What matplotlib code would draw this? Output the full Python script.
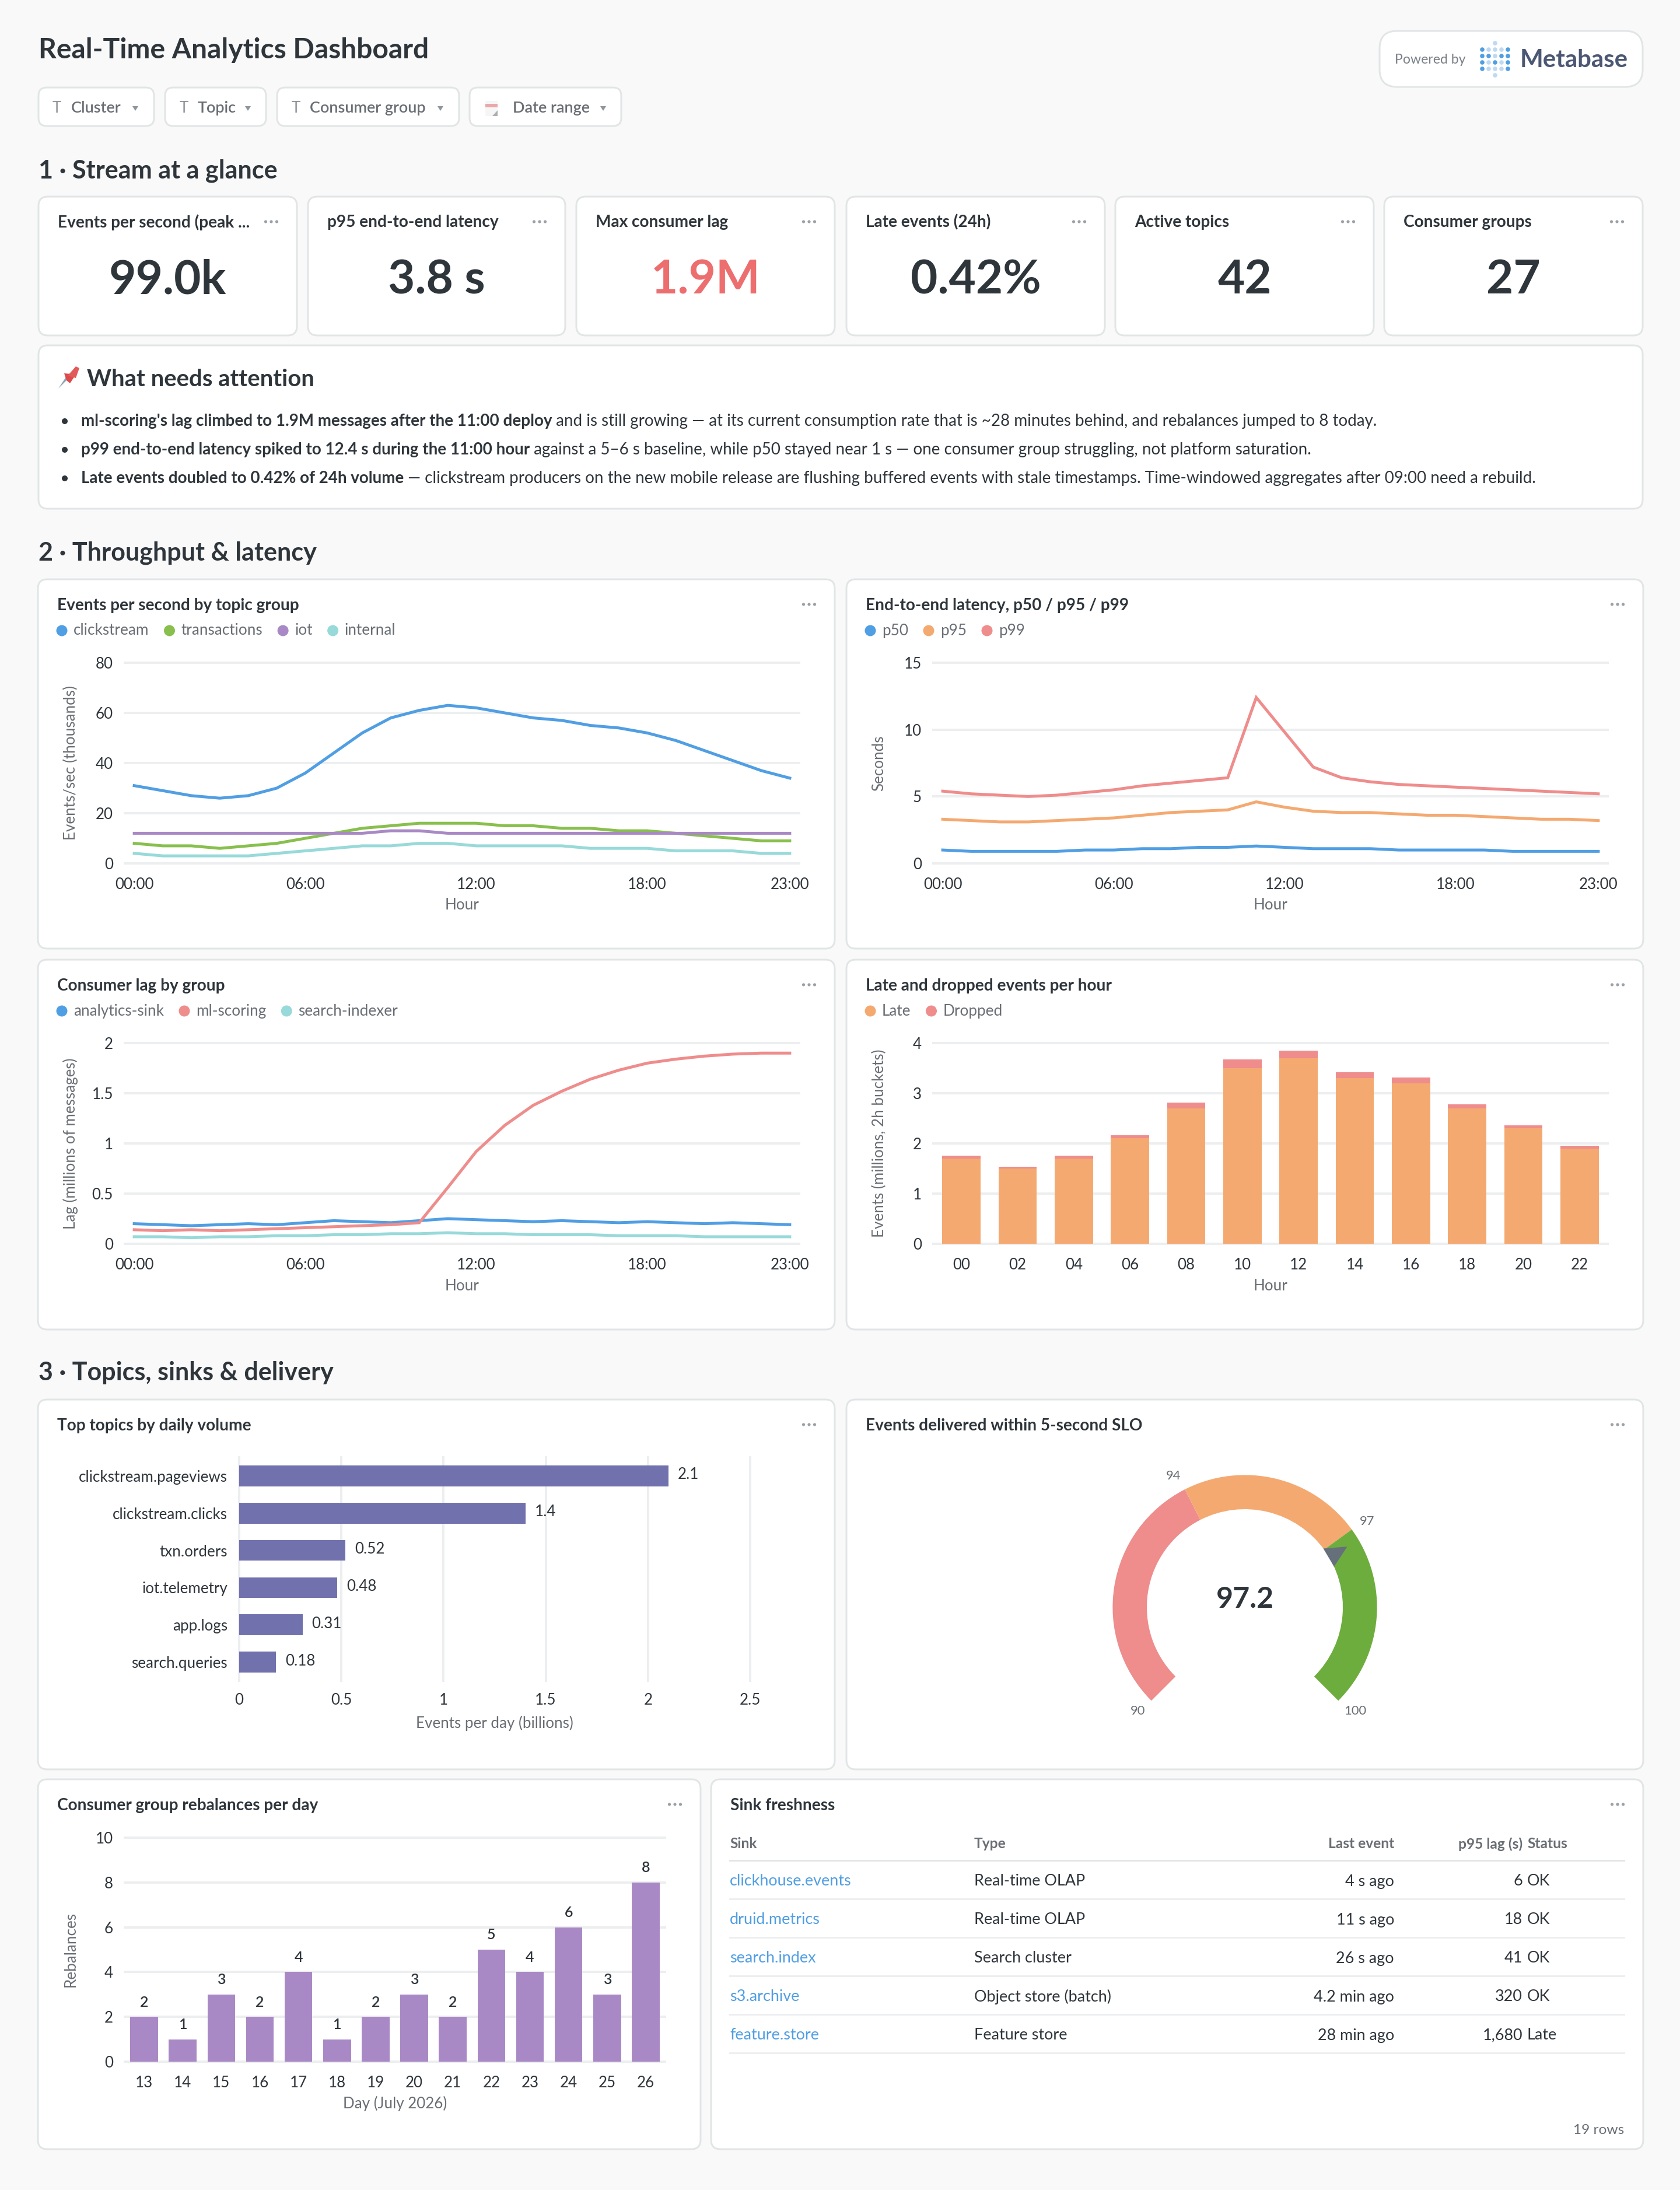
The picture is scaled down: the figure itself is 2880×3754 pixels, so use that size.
import matplotlib
matplotlib.use("Agg")
import matplotlib.pyplot as plt
from matplotlib.patches import FancyBboxPatch, Circle, Polygon, Rectangle, Wedge
import numpy as np

plt.rcParams['font.family'] = ['Lato', 'DejaVu Sans']

W, H = 2880, 3754
DPI = 200

# colours
BG = '#F9F9FA'
BORDER = '#E1E5E5'
DARK = '#2E353B'
MUTED = '#696E74'
GRID = '#EDEEEF'
BLUE = '#509EE3'
GREEN = '#88BF4D'
PURPLE = '#A989C5'
TEAL = '#98D9D9'
ORANGE = '#F4A971'
RED = '#EF8C8C'
INDIGO = '#7172AD'
GAUGE_GREEN = '#6DAD3E'

# --- data ---
hours = list(range(24))
hour_ticks = [0, 6, 12, 18, 23]
hour_tick_labels = ['00:00', '06:00', '12:00', '18:00', '23:00']

clickstream = [31, 29, 27, 26, 27, 30, 36, 44, 52, 58, 61, 63, 62, 60, 58, 57, 55, 54, 52, 49, 45, 41, 37, 34]
transactions = [8, 7, 7, 6, 7, 8, 10, 12, 14, 15, 16, 16, 16, 15, 15, 14, 14, 13, 13, 12, 11, 10, 9, 9]
iot = [12, 12, 12, 12, 12, 12, 12, 12, 12, 13, 13, 12, 12, 12, 12, 12, 12, 12, 12, 12, 12, 12, 12, 12]
internal = [4, 3, 3, 3, 3, 4, 5, 6, 7, 7, 8, 8, 7, 7, 7, 7, 6, 6, 6, 5, 5, 5, 4, 4]

p50 = [1, .9, .9, .9, .9, 1, 1, 1.1, 1.1, 1.2, 1.2, 1.3, 1.2, 1.1, 1.1, 1.1, 1, 1, 1, 1, .9, .9, .9, .9]
p95 = [3.3, 3.2, 3.1, 3.1, 3.2, 3.3, 3.4, 3.6, 3.8, 3.9, 4, 4.6, 4.2, 3.9, 3.8, 3.8, 3.7, 3.6, 3.6, 3.5, 3.4, 3.3, 3.3, 3.2]
p99 = [5.4, 5.2, 5.1, 5.0, 5.1, 5.3, 5.5, 5.8, 6.0, 6.2, 6.4, 12.4, 9.8, 7.2, 6.4, 6.1, 5.9, 5.8, 5.7, 5.6, 5.5, 5.4, 5.3, 5.2]

analytics_sink = [.2, .19, .18, .19, .2, .19, .21, .23, .22, .21, .23, .25, .24, .23, .22, .23, .22, .21, .22, .21, .2, .21, .2, .19]
ml_scoring = [.14, .13, .14, .13, .14, .15, .16, .17, .18, .19, .21, .56, .92, 1.18, 1.38, 1.52, 1.64, 1.73, 1.8, 1.84, 1.87, 1.89, 1.9, 1.9]
search_indexer = [.07, .07, .06, .07, .07, .08, .08, .09, .09, .1, .1, .11, .1, .1, .09, .09, .09, .08, .08, .08, .07, .07, .07, .07]

bucket_labels = ['00', '02', '04', '06', '08', '10', '12', '14', '16', '18', '20', '22']
late_events = [1.7, 1.5, 1.7, 2.1, 2.7, 3.5, 3.7, 3.3, 3.2, 2.7, 2.3, 1.9]
dropped_events = [.05, .04, .05, .06, .11, .17, .15, .12, .11, .08, .06, .05]

topic_names = ['clickstream.pageviews', 'clickstream.clicks', 'txn.orders', 'iot.telemetry', 'app.logs', 'search.queries']
topic_volume = [2.1, 1.4, 0.52, 0.48, 0.31, 0.18]

gauge_bounds = [90, 94, 97, 100]
gauge_value = 97.2

rebalance_days = ['13', '14', '15', '16', '17', '18', '19', '20', '21', '22', '23', '24', '25', '26']
rebalances = [2, 1, 3, 2, 4, 1, 2, 3, 2, 5, 4, 6, 3, 8]

kpi_titles = ['Events per second (peak ...', 'p95 end-to-end latency', 'Max consumer lag',
              'Late events (24h)', 'Active topics', 'Consumer groups']
kpi_values = ['99.0k', '3.8 s', '1.9M', '0.42%', '42', '27']

table_sink = ['clickhouse.events', 'druid.metrics', 'search.index', 's3.archive', 'feature.store']
table_type = ['Real-time OLAP', 'Real-time OLAP', 'Search cluster', 'Object store (batch)', 'Feature store']
table_last = ['4 s ago', '11 s ago', '26 s ago', '4.2 min ago', '28 min ago']
table_p95 = ['6', '18', '41', '320', '1,680']
table_status = ['OK', 'OK', 'OK', 'OK', 'Late']

notes = [
    ("ml-scoring's lag climbed to 1.9M messages after the 11:00 deploy",
     " and is still growing — at its current consumption rate that is ~28 minutes behind, and rebalances jumped to 8 today."),
    ("p99 end-to-end latency spiked to 12.4 s during the 11:00 hour",
     " against a 5–6 s baseline, while p50 stayed near 1 s — one consumer group struggling, not platform saturation."),
    ("Late events doubled to 0.42% of 24h volume",
     " — clickstream producers on the new mobile release are flushing buffered events with stale timestamps. Time-windowed aggregates after 09:00 need a rebuild."),
]


def fs(n):
    # pixel size to points
    return n * 72 / DPI


fig = plt.figure(figsize=(W / DPI, H / DPI), dpi=DPI, facecolor=BG)
bg = fig.add_axes([0, 0, 1, 1], zorder=0)
bg.set_xlim(0, W)
bg.set_ylim(H, 0)
bg.axis('off')


def card(x0, y0, x1, y1, r=16):
    bg.add_patch(FancyBboxPatch((x0, y0), x1 - x0, y1 - y0, boxstyle=f'round,pad=0,rounding_size={r}',
                                fc='white', ec=BORDER, lw=fs(3)))


def label(x, y, s, size=26, color=DARK, weight='normal', ha='left', va='center'):
    return bg.text(x, y, s, fontsize=fs(size), color=color, fontweight=weight, ha=ha, va=va)


def dots(x, y):
    for dx in (-9.5, 0, 9.5):
        bg.add_patch(Circle((x + dx, y), 2.6, fc='#9BA1A6', ec='none'))


def text_end(t):
    return t.get_window_extent(fig.canvas.get_renderer()).x1


def chart_card(x0, y0, x1, y1, title):
    card(x0, y0, x1, y1)
    label(x0 + 33, y0 + 45, title, 28, weight='bold')
    dots(x1 - 44, y0 + 43)


def legend_row(x, y, items):
    for name, color in items:
        bg.add_patch(Circle((x - 20, y), 9.5, fc=color, ec='none'))
        t = label(x, y, name, 26.2, MUTED)
        x = text_end(t) + 55


def axes_px(x0, y0, x1, y1):
    ax = fig.add_axes([x0 / W, 1 - y1 / H, (x1 - x0) / W, (y1 - y0) / H], zorder=1)
    ax.patch.set_alpha(0)
    for s in ax.spines.values():
        s.set_visible(False)
    ax.tick_params(length=0, labelsize=fs(26), labelcolor=DARK)
    ax.set_axisbelow(True)
    return ax


def style_axis(ax, x0, y0, x1, y1, xlabel, ylabel=None, grid='y'):
    ax.grid(True, axis=grid, color=GRID, lw=fs(4))
    for gl in ax.get_ygridlines() + ax.get_xgridlines():
        gl.set_clip_on(False)
    ax.tick_params(axis='x', pad=fs(24))
    ax.tick_params(axis='y', pad=fs(20))
    ax.set_xlabel(xlabel, fontsize=fs(26), color=MUTED, va='center')
    ax.xaxis.set_label_coords(0.5, -72 / (y1 - y0))
    if ylabel:
        ax.set_ylabel(ylabel, fontsize=fs(26), color=MUTED, va='center')
        ax.yaxis.set_label_coords(-93 / (x1 - x0), 0.5)


def line_chart(rect, series, yticks, ylabels, ylabel):
    x0, y0, x1, y1 = rect
    ax = axes_px(*rect)
    for vals, color in series:
        ax.plot(hours, vals, color=color, lw=fs(5), solid_joinstyle='miter')
    ax.set_xlim(-0.33, 23.33)
    ax.set_ylim(yticks[0], yticks[-1])
    ax.set_xticks(hour_ticks, hour_tick_labels)
    ax.set_yticks(yticks, ylabels)
    style_axis(ax, x0, y0, x1, y1, 'Hour', ylabel)
    return ax


# --- header ---
label(66, 86, 'Real-Time Analytics Dashboard', 48, weight='bold')

pills = [(66, 264, 'Cluster', 97, 122, 232), (283, 456, 'Topic', 315, 339, 425),
         (475, 787, 'Consumer group', 507, 531, 755), (805, 1065, 'Date range', None, 879, 1034)]
for x0, x1, name, icon_x, text_x, caret_x in pills:
    card(x0, 150, x1, 216, r=14)
    if icon_x:
        label(icon_x, 185, 'T', 26, '#8F959B', ha='center')
    label(text_x, 185, name, 27, MUTED, weight=600)
    bg.add_patch(Polygon([(caret_x - 5, 182), (caret_x + 5, 182), (caret_x, 190)], fc='#8F959B', ec='none'))
# calendar icon
bg.add_patch(Rectangle((832, 173), 21, 26, fc='#F6F6F6', ec='none'))
bg.add_patch(Rectangle((832, 178), 21, 6, fc='#E9A9A9', ec='none'))
bg.add_patch(Polygon([(844, 199), (853, 199), (853, 189)], fc='#A9AEB2', ec='none'))

card(2365, 53, 2816, 149, r=30)
label(2391, 102, 'Powered by', 23, '#7A8087')
logo_m = [[1, 0, 0, 0, 1], [1, 1, 0, 1, 1], [1, 0, 1, 0, 1], [1, 0, 0, 0, 1]]
for row, flags in enumerate(logo_m):
    for col, on in enumerate(flags):
        bg.add_patch(Circle((2541 + col * 11, 85 + row * 11), 3.8, fc=BLUE if on else '#BFD9F2', ec='none'))
for yy in (74, 129):
    bg.add_patch(Circle((2563, yy), 3.8, fc='#BFD9F2', ec='none'))
label(2606, 103, 'Metabase', 42, '#4C5773', weight='bold')

# --- section 1 ---
label(66, 293, '1 · Stream at a glance', 43.2, weight='bold')
kpi_x = [(66, 509), (528, 969), (988, 1431), (1451, 1894), (1912, 2355), (2373, 2816)]
for (x0, x1), title, value in zip(kpi_x, kpi_titles, kpi_values):
    card(x0, 337, x1, 575)
    label(x0 + 33, 381, title, 28, weight='bold')
    dots(x1 - 44, 380)
    label((x0 + x1) / 2, 480, value, 80, '#ED6E6E' if value == '1.9M' else DARK, weight='bold', ha='center')

card(66, 592, 2816, 872)
label(149, 650, 'What needs attention', 40, weight='bold')
# pin icon
bg.add_patch(Polygon([(100, 666), (114, 645), (118, 648)], fc='#8FA3B5', ec='none'))
bg.add_patch(Polygon([(110, 640), (122, 641), (128, 645), (120, 657), (114, 652)], fc='#DD4A4A', ec='none'))
bg.add_patch(Polygon([(116, 644), (130, 628), (136, 631), (130, 648)], fc='#E25B5B', ec='none'))
for yy, (bold_part, rest) in zip([722, 771, 820], notes):
    bg.add_patch(Circle((111, yy), 5, fc=DARK, ec='none'))
    t = label(139, yy, bold_part, 27.7, weight='bold')
    label(text_end(t), yy, rest, 27.7)

# --- section 2 ---
label(66, 948, '2 · Throughput & latency', 43.2, weight='bold')

chart_card(65, 993, 1431, 1626, 'Events per second by topic group')
legend_row(126, 1081, [('clickstream', BLUE), ('transactions', GREEN), ('iot', PURPLE), ('internal', TEAL)])
line_chart((214, 1136, 1370, 1480),
           [(clickstream, BLUE), (transactions, GREEN), (iot, PURPLE), (internal, TEAL)],
           [0, 20, 40, 60, 80], ['0', '20', '40', '60', '80'], 'Events/sec (thousands)')

chart_card(1451, 993, 2817, 1626, 'End-to-end latency, p50 / p95 / p99')
legend_row(1512, 1081, [('p50', BLUE), ('p95', ORANGE), ('p99', RED)])
line_chart((1600, 1136, 2756, 1480), [(p50, BLUE), (p95, ORANGE), (p99, RED)],
           [0, 5, 10, 15], ['0', '5', '10', '15'], 'Seconds')

chart_card(65, 1645, 1431, 2279, 'Consumer lag by group')
legend_row(126, 1733, [('analytics-sink', BLUE), ('ml-scoring', RED), ('search-indexer', TEAL)])
line_chart((214, 1788, 1370, 2132), [(analytics_sink, BLUE), (ml_scoring, RED), (search_indexer, TEAL)],
           [0, 0.5, 1, 1.5, 2], ['0', '0.5', '1', '1.5', '2'], 'Lag (millions of messages)')

chart_card(1451, 1645, 2817, 2279, 'Late and dropped events per hour')
legend_row(1512, 1733, [('Late', ORANGE), ('Dropped', RED)])
rect = (1600, 1788, 2756, 2132)
ax = axes_px(*rect)
pos = np.arange(len(bucket_labels))
ax.bar(pos, late_events, width=0.685, color=ORANGE)
ax.bar(pos, dropped_events, width=0.685, bottom=late_events, color=RED)
ax.set_xlim(-0.5, 11.5)
ax.set_ylim(0, 4)
ax.set_xticks(pos, bucket_labels)
ax.set_yticks([0, 1, 2, 3, 4], ['0', '1', '2', '3', '4'])
style_axis(ax, *rect, 'Hour', 'Events (millions, 2h buckets)')

# --- section 3 ---
label(66, 2353, '3 · Topics, sinks & delivery', 43, weight='bold')

chart_card(65, 2399, 1431, 3033, 'Top topics by daily volume')
rect = (410, 2498, 1286, 2881)
ax = axes_px(*rect)
pos = np.arange(len(topic_names))
ax.barh(pos, topic_volume, height=0.56, color=INDIGO)
ax.set_xlim(0, 2.5)
ax.set_ylim(5.5, -0.5)
ax.set_yticks(pos, topic_names)
ax.set_xticks([0, 0.5, 1, 1.5, 2, 2.5], ['0', '0.5', '1', '1.5', '2', '2.5'])
style_axis(ax, *rect, 'Events per day (billions)', None, grid='x')
ax.xaxis.set_label_coords(0.5, -73 / (rect[3] - rect[1]))
ax.tick_params(axis='x', pad=fs(21))
for i, v in enumerate(topic_volume):
    ax.annotate(f'{v:g}', (v, i), xytext=(fs(16), fs(2)), textcoords='offset points', va='center',
                fontsize=fs(26), color=DARK)

chart_card(1451, 2399, 2817, 3033, 'Events delivered within 5-second SLO')
gx, gy, half = 2134, 2755, 300
ax = axes_px(gx - half, gy - half, gx + half, gy + half)
ax.set_xlim(-half, half)
ax.set_ylim(-half, half)
ax.axis('off')


def gauge_angle(v):
    # 90 sits at 225 degrees, 100 at -45
    return 225 - (v - gauge_bounds[0]) / (gauge_bounds[-1] - gauge_bounds[0]) * 270


R_OUT, R_IN = 226.6, 168
for lo, hi, color in zip(gauge_bounds[:-1], gauge_bounds[1:], [RED, ORANGE, GAUGE_GREEN]):
    ax.add_patch(Wedge((0, 0), R_OUT, gauge_angle(hi), gauge_angle(lo), width=R_OUT - R_IN, fc=color, ec='none'))
a = np.radians(gauge_angle(gauge_value))
da = np.radians(6.2)
ax.add_patch(Polygon([(204 * np.cos(a), 204 * np.sin(a)),
                      (R_IN * np.cos(a + da), R_IN * np.sin(a + da)),
                      (R_IN * np.cos(a - da), R_IN * np.sin(a - da))], fc='#66707A', ec='none'))
label_nudge = {90: (-2, 3), 94: (-6, -3), 97: (3, -3), 100: (8, 3)}
for b in gauge_bounds:
    t = np.radians(gauge_angle(b))
    nx, ny = label_nudge[b]
    ax.text(256 * np.cos(t) + nx, 256 * np.sin(t) + ny, str(b), fontsize=fs(22), color=MUTED, ha='center', va='center')
ax.text(0, 14, f'{gauge_value}', fontsize=fs(50), color=DARK, fontweight='bold', ha='center', va='center')

chart_card(65, 3050, 1201, 3684, 'Consumer group rebalances per day')
rect = (214, 3150, 1140, 3534)
ax = axes_px(*rect)
pos = np.arange(len(rebalance_days))
ax.bar(pos, rebalances, width=0.72, color=PURPLE)
ax.set_xlim(-0.5, 13.5)
ax.set_ylim(0, 10)
ax.set_xticks(pos, rebalance_days)
ax.set_yticks([0, 2, 4, 6, 8, 10], ['0', '2', '4', '6', '8', '10'])
style_axis(ax, *rect, 'Day (July 2026)', 'Rebalances')
for i, v in enumerate(rebalances):
    ax.annotate(str(v), (i, v), xytext=(0, fs(25)), textcoords='offset points', ha='center', va='center',
                fontsize=fs(25), color=DARK, fontweight=600)

# sink table
chart_card(1219, 3050, 2817, 3684, 'Sink freshness')
TX = [1251, 1670, 2390, 2610, 2618]
label(TX[0], 3161, 'Sink', 24.5, MUTED, weight='bold')
label(TX[1], 3161, 'Type', 24.5, MUTED, weight='bold')
label(TX[2], 3161, 'Last event', 24.5, MUTED, weight='bold', ha='right')
label(TX[3], 3161, 'p95 lag (s)', 24.5, MUTED, weight='bold', ha='right')
label(TX[4], 3161, 'Status', 24.5, MUTED, weight='bold')
bg.plot([1251, 2784], [3188.5, 3188.5], color='#E3E6E7', lw=fs(3))
row_y = [3223, 3289, 3355, 3421, 3487]
for i, yy in enumerate(row_y):
    label(TX[0], yy + 2, table_sink[i], 27, BLUE)
    label(TX[1], yy + 2, table_type[i], 27)
    label(TX[2], yy + 2, table_last[i], 27, ha='right')
    label(TX[3], yy + 2, table_p95[i], 27, ha='right')
    label(TX[4], yy + 2, table_status[i], 27)
    bg.plot([1251, 2784], [yy + 32, yy + 32], color=GRID, lw=fs(3))
label(2784, 3651, '19 rows', 24.5, MUTED, ha='right')

fig.savefig('out.png', dpi=DPI, facecolor=BG)
